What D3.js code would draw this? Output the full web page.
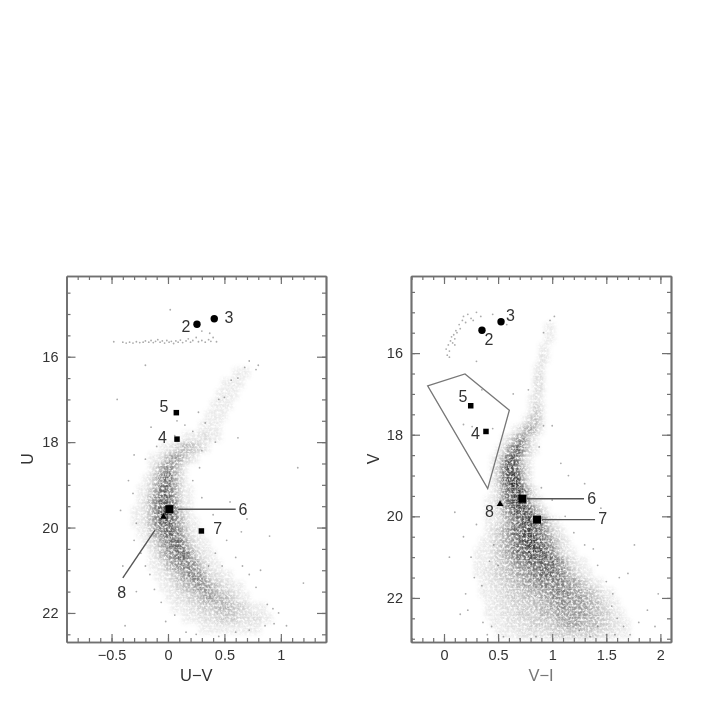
<!DOCTYPE html>
<html><head><meta charset="utf-8">
<script src="https://cdn.jsdelivr.net/npm/d3@7"></script>
<style>
html,body{margin:0;padding:0;background:#fff}
svg{display:block;filter:blur(.6px)}
text{font-family:"Liberation Sans",sans-serif;fill:#333}
</style></head><body><div id="c"></div>
<script>
// density rows: [magnitude, first colour, darkness per 0.05 in colour]
const densityUV=[
[16.375,.6,[1,1,1]],[16.625,.5,[1,1,1,1]],[16.875,.45,[1,1,1,1]],[17.125,.4,[1,1,1,1]],[17.375,.35,[1,1,1,1]],[17.625,.3,[1,1,1,1]],[17.875,.15,[1,1,1,2,2,1,1]],
[18.125,-.05,[1,1,2,3,4,4,3,2,1]],[18.375,-.15,[1,1,2,4,5,5,3,2,1]],[18.625,-.15,[1,3,5,6,5,3,1]],[18.875,-.2,[1,2,4,6,7,5,3,1]],[19.125,-.25,[1,1,3,5,7,7,5,3,1,1]],
[19.375,-.25,[1,2,4,6,7,7,6,3,1,1]],[19.625,-.3,[1,1,2,4,6,8,8,7,4,2,1]],[19.875,-.3,[1,1,2,4,6,7,8,6,5,3,1,1]],[20.125,-.25,[1,1,3,5,6,7,7,6,4,2,1,1]],[20.375,-.2,[1,2,3,5,6,7,7,5,3,2,1,1]],
[20.625,-.15,[1,2,4,5,6,7,7,5,3,2,1,1]],[20.875,-.15,[1,1,2,4,5,6,6,6,5,3,2,1,1]],[21.125,-.1,[1,1,2,3,4,5,6,6,5,3,2,2,1,1]],[21.375,-.05,[1,1,2,3,4,4,5,6,5,4,3,2,2,1,1]],[21.625,0,[1,1,2,2,3,3,4,5,5,4,4,3,2,1,1]],
[21.875,.05,[1,1,1,2,2,3,3,3,4,4,4,3,3,2,1,1,1]],[22.125,.15,[1,1,1,2,2,2,3,3,3,3,2,2,2,2,1,1]],[22.375,.3,[1,1,1,1,1,1,1,1,1,1,1]]];
const densityVI=[
[15.375,.95,[1,1]],[15.625,.95,[1,1]],[15.875,.9,[1,1]],[16.125,.9,[2,1]],[16.375,.85,[1,2]],[16.625,.85,[2,2]],[16.875,.85,[2,2]],[17.125,.8,[1,2,1]],[17.375,.8,[1,3,2]],
[17.625,.75,[1,3,4,2]],[17.875,.65,[1,2,4,5,3,1]],[18.125,.55,[1,2,4,6,5,2,1]],[18.375,.5,[1,2,5,7,7,4,2,1]],[18.625,.45,[1,2,5,8,8,5,2,1]],[18.875,.45,[1,3,6,8,8,6,3,1]],[19.125,.45,[1,3,6,8,9,7,3,1]],
[19.375,.45,[1,2,5,7,8,8,6,3,1]],[19.625,.4,[1,1,3,5,7,8,8,7,4,2,1]],[19.875,.4,[1,1,2,4,6,7,8,8,7,5,3,1]],[20.125,.4,[1,1,2,3,5,6,7,8,8,7,6,4,2,1]],[20.375,.4,[1,2,3,4,5,7,7,8,8,7,6,5,3,2,1]],
[20.625,.35,[1,1,2,3,4,5,6,7,8,8,8,7,6,5,3,2,1]],[20.875,.3,[1,1,1,2,3,4,5,6,7,7,8,8,8,7,6,4,2,1,1]],[21.125,.3,[1,1,1,2,3,3,4,5,6,6,7,7,7,7,7,6,5,3,2,1,1]],[21.375,.3,[1,1,2,2,3,3,4,4,5,5,6,6,7,7,7,6,6,4,3,2,1,1]],
[21.625,.35,[1,1,2,2,3,3,4,4,5,5,6,6,6,6,6,6,5,5,4,3,2,1,1]],[21.875,.35,[1,1,1,2,2,3,3,3,4,4,4,5,5,6,6,6,6,5,5,4,4,3,2,1,1]],[22.125,.4,[1,1,2,2,2,3,3,3,3,4,4,4,5,5,6,5,5,5,5,4,4,3,2,1,1]],
[22.375,.4,[1,1,1,2,2,2,3,3,3,3,4,4,4,5,5,5,5,5,5,4,4,3,3,2,1,1]],[22.625,.45,[1,1,1,2,2,2,2,3,3,3,3,3,4,4,5,5,5,4,4,4,3,3,2,2,1,1]],[22.875,.5,[1,1,1,1,2,2,2,2,2,2,3,3,3,3,3,3,3,3,3,2,2,2,1,1,1]]];

// individual sparse stars: [colour, magnitude]
const starsUV=[[-.48,15.65],[-.4,15.66],[-.37,15.68],[-.34,15.66],[-.31,15.68],[-.28,15.65],[-.25,15.67],[-.22,15.66],[-.2,15.63],[-.17,15.66],[-.15,15.62],[-.13,15.67],[-.11,15.64],[-.09,15.6],[-.07,15.66],[-.05,15.63],[-.03,15.68],[-.01,15.62],[.01,15.66],[.03,15.64],[.05,15.69],[.07,15.63],[.09,15.66],[.11,15.61],[.13,15.67],[.16,15.63],[.18,15.58],[.2,15.66],[.22,15.62],[.25,15.55],[.27,15.65],[.3,15.62],[.33,15.66],[.36,15.6],[.38,15.64],[.4,15.55],[.43,15.65],[.3,15.4],[.37,15.45],
[.72,16.1],[.78,16.3],[.68,16.25],[.62,16.5],[.56,16.55],[.5,16.95],[.45,17],[.33,17.55],[.27,17.3],[.22,17.75],[.15,17.6],[.08,17.5],[.06,17.85],[.3,18.2],[.42,18],[.62,17.9],[-.45,17],[-.2,16.2],[-.15,17.65],[1.15,18.6],[.8,16.2],[.02,14.9],
[-.35,18.9],[-.31,19.2],[-.42,19.6],[-.28,19.9],[-.3,20.3],[-.24,20.6],[-.4,20.9],[-.2,20.9],[-.16,21.1],[-.12,21.45],[-.28,21.5],[-.06,21.75],[-.38,22.3],[-.02,22.2],[.06,22.05],[.16,22.45],[.3,21.2],[.36,20.9],[.42,20.6],[.48,20.9],[.52,20.3],[.6,20.7],[.66,20.9],[.72,21.1],[.78,21.4],[.82,21],[.88,21.8],[.93,21.9],[.98,22],[1.05,22.3],[1.2,21.3],[.7,19.8],[.55,19.4],[.4,19.7],[.3,19.3],[.22,18.9],[.28,18.6],[.9,20.2],[.65,20.1],[.25,22.5],[.45,22.55],[.6,22.45],[.72,22.4],[.86,22.3],[.94,22.25],[-.1,18.1],[-.2,18.4],[-.3,18.3]];
const starsVI=[[.03,16.05],[.02,15.9],[.04,15.8],[.05,15.95],[.06,15.7],[.07,15.6],[.08,15.75],[.09,15.55],[.1,15.65],[.11,15.45],[.12,15.5],[.14,15.3],[.15,15.4],[.17,15.2],[.18,15.1],[.2,15.25],[.22,15.05],[.25,15.15],[.27,15.2],[.3,15],[.34,15.1],[.1,15.8],[.05,16.1],[.45,15.05],[.58,15.3],[.98,15.2],[1.02,15.1],[.92,15.5],
[.64,17],[.35,16.9],[.26,17.8],[.18,17.75],[.45,17.85],[.92,17.78],[1,17.78],[.78,16.9],[.3,16.2],
[.1,19.9],[.18,20.5],[.05,21],[.25,21],[.3,20.2],[.28,21.5],[.2,21.9],[.35,21.7],[.15,22.4],[.22,22.3],[.36,22.6],[.42,21.1],[.46,20.7],[.4,22.9],[.44,22.7],[.5,21.2],[1.12,20],[1.2,20.4],[1.3,20.7],[1.38,20.8],[1.42,21.2],[1.5,21.6],[1.56,21.9],[1.62,21.5],[1.7,21.4],[1.55,22.2],[1.6,22.5],[1.66,22.7],[1.72,22.9],[1.8,22.6],[1.88,22.3],[1.98,21.9],[1.95,22.7],[1.76,20.7],[1.3,19.2],[1.0,19.6],[1.15,19],[.9,19.3],[1.08,18.7],[.88,18.3],[1.45,19.8],[1.35,22.95],[1.42,22.7],[1.25,22.8],[1.5,22.9],[1.58,22.9],[.55,22.95],[.7,23],[.85,22.95]];

const xTicksUV=[-.5,0,.5,1], xMinorUV=d3.range(-8,14).map(d=>d/10);
const xTicksVI=[0,.5,1,1.5,2], xMinorVI=d3.range(-3,21).map(d=>d/10);
const yTicks=[16,18,20,22], yMinorUV=d3.range(14.5,22.6,.5), yMinorVI=d3.range(14.5,23.1,.5);

const circlesUV=[[.257,15.24],[.41,15.11]], squaresUV=[[.074,17.31],[.08,17.93]], bigSquaresUV=[[.012,19.57]], smallSquaresUV=[[.296,20.08]], trianglesUV=[[-.04,19.75]];
const circlesVI=[[.351,15.44],[.527,15.23]], squaresVI=[[.247,17.29],[.388,17.92]], bigSquaresVI=[[.724,19.57],[.86,20.08]], smallSquaresVI=[], trianglesVI=[[.518,19.7]];
const labelsUV=[["2",.16,15.3],["3",.54,15.09],["5",-.035,17.17],["4",-.05,17.88],["6",.665,19.57],["7",.44,20.03],["8",-.41,21.52]];
const labelsVI=[["2",.415,15.66],["3",.615,15.08],["5",.175,17.06],["4",.29,17.98],["6",1.365,19.57],["7",1.467,20.05],["8",.42,19.87]];
const leadersUV=[[[.09,19.57],[.6,19.57]],[[-.115,20.06],[-.4,21.18]]];
const leadersVI=[[[.764,19.57],[1.294,19.57]],[[.903,20.08],[1.396,20.08]]];
const selectionBox=[[-.151,16.8],[.194,16.51],[.604,17.4],[.404,19.32]];

const svg=d3.select("#c").append("svg").attr("width",708).attr("height",708);
const defs=svg.append("defs");
// photographic grain for the density layer
const f=defs.append("filter").attr("id","soft").attr("x","0").attr("y","0").attr("width","708").attr("height","708")
  .attr("filterUnits","userSpaceOnUse").attr("color-interpolation-filters","sRGB");
f.append("feGaussianBlur").attr("in","SourceGraphic").attr("stdDeviation",2).attr("result","b");
f.append("feTurbulence").attr("type","fractalNoise").attr("baseFrequency",.42).attr("numOctaves",2).attr("seed",7).attr("result","n");
f.append("feColorMatrix").attr("in","n").attr("type","matrix").attr("values","0 0 0 0 0 0 0 0 0 0 0 0 0 0 0 2.6 0 0 0 -.55").attr("result","a");
f.append("feComposite").attr("in","b").attr("in2","a").attr("operator","in");
const pat=defs.append("pattern").attr("id","mesh").attr("patternUnits","userSpaceOnUse").attr("width",5.6).attr("height",5.6);
pat.append("path").attr("d","M0 0H5.6M0 0V5.6").attr("stroke","#fff").attr("stroke-width",1.3).attr("stroke-opacity",.4);

function panel(o){
  const x=d3.scaleLinear().domain(o.xd).range(o.xr), y=d3.scaleLinear().domain(o.yd).range(o.yr);
  const g=svg.append("g");
  const cid="clip"+o.id;
  defs.append("clipPath").attr("id",cid).append("rect").attr("x",o.xr[0]).attr("y",o.yr[1]).attr("width",o.xr[1]-o.xr[0]).attr("height",o.yr[0]-o.yr[1]);
  const cells=o.density.flatMap(([m,c0,vals])=>vals.map((v,i)=>({m,c:c0+i*.05,v})));
  const cg=g.append("g").attr("clip-path",`url(#${cid})`);
  cg.append("g").attr("filter","url(#soft)").selectAll("rect").data(cells).join("rect")
    .attr("x",d=>x(d.c-.025)).attr("width",d=>x(d.c+.025)-x(d.c-.025))
    .attr("y",d=>y(d.m-.125)).attr("height",d=>y(d.m+.125)-y(d.m-.125))
    .attr("fill","#000").attr("fill-opacity",d=>.05+.85*Math.pow(d.v/9,1.5));
  cg.append("rect").attr("x",o.xr[0]).attr("y",o.yr[1]).attr("width",o.xr[1]-o.xr[0]).attr("height",o.yr[0]-o.yr[1]).attr("fill","url(#mesh)");
  cg.append("g").selectAll("circle").data(o.stars).join("circle")
    .attr("cx",d=>x(d[0])).attr("cy",d=>y(d[1])).attr("r",.9).attr("fill","#000").attr("fill-opacity",.33);

  // frame and ticks
  const ax=c=>c.attr("color","#707070").call(s=>s.selectAll("path").attr("stroke-width",1.7)).call(s=>s.selectAll("line").attr("stroke-width",1.2));
  const noLab=()=>"";
  const fmt=d=>String(d).replace("-","−");
  const bot=`translate(0,${o.yr[0]})`, top=`translate(0,${o.yr[1]})`, lef=`translate(${o.xr[0]},0)`, rig=`translate(${o.xr[1]},0)`;
  g.append("g").attr("transform",bot).call(d3.axisBottom(x).tickValues(o.xMinor).tickSize(-4).tickSizeOuter(0).tickFormat(noLab)).call(ax);
  g.append("g").attr("transform",bot).call(d3.axisBottom(x).tickValues(o.xTicks).tickSize(-8).tickSizeOuter(0).tickPadding(8).tickFormat(fmt)).call(ax);
  g.append("g").attr("transform",top).call(d3.axisTop(x).tickValues(o.xMinor).tickSize(-4).tickSizeOuter(0).tickFormat(noLab)).call(ax);
  g.append("g").attr("transform",top).call(d3.axisTop(x).tickValues(o.xTicks).tickSize(-8).tickSizeOuter(0).tickFormat(noLab)).call(ax);
  g.append("g").attr("transform",lef).call(d3.axisLeft(y).tickValues(o.yMinor).tickSize(-4).tickSizeOuter(0).tickFormat(noLab)).call(ax);
  g.append("g").attr("transform",lef).call(d3.axisLeft(y).tickValues(yTicks).tickSize(-9).tickSizeOuter(0).tickPadding(8).tickFormat(fmt)).call(ax);
  g.append("g").attr("transform",rig).call(d3.axisRight(y).tickValues(o.yMinor).tickSize(-4).tickSizeOuter(0).tickFormat(noLab)).call(ax);
  g.append("g").attr("transform",rig).call(d3.axisRight(y).tickValues(yTicks).tickSize(-9).tickSizeOuter(0).tickFormat(noLab)).call(ax);
  g.selectAll(".tick text").attr("font-size",14.5).style("font-family","'Liberation Sans',sans-serif").attr("fill","#333");

  // leaders, polygon, markers
  const line=d3.line().x(d=>x(d[0])).y(d=>y(d[1]));
  g.selectAll("path.lead").data(o.leaders).join("path").attr("class","lead").attr("d",line).attr("fill","none").attr("stroke","#555").attr("stroke-width",1.4);
  if(o.box) g.append("path").attr("d",line(o.box)+"Z").attr("fill","none").attr("stroke","#777").attr("stroke-width",1.3);
  g.selectAll("circle.mk").data(o.circles).join("circle").attr("class","mk").attr("cx",d=>x(d[0])).attr("cy",d=>y(d[1])).attr("r",3.7).attr("fill","#000");
  const sq=(arr,s)=>g.append("g").selectAll("rect").data(arr).join("rect").attr("x",d=>x(d[0])-s/2).attr("y",d=>y(d[1])-s/2).attr("width",s).attr("height",s).attr("fill","#000");
  sq(o.squares,5.5); sq(o.small,5.5); sq(o.big,8);
  const tri=d3.symbol().type(d3.symbolTriangle).size(20);
  g.append("g").selectAll("path").data(o.tris).join("path").attr("d",tri).attr("transform",d=>`translate(${x(d[0])},${y(d[1])})`).attr("fill","#000");
  g.append("g").selectAll("text").data(o.labels).join("text").text(d=>d[0]).attr("x",d=>x(d[1])).attr("y",d=>y(d[2]))
    .attr("text-anchor","middle").attr("dominant-baseline","central").attr("font-size",16);
  // axis titles
  g.append("text").text(o.xTitle).attr("x",(o.xr[0]+o.xr[1])/2).attr("y",675).attr("text-anchor","middle").attr("dominant-baseline","central").attr("font-size",16.5).style("fill",o.titleFill);
  g.append("text").text(o.yTitle).attr("transform",`translate(${o.yTitleX},459) rotate(-90)`).attr("text-anchor","middle").attr("dominant-baseline","central").attr("font-size",16);
}

panel({id:"a",xd:[-.899,1.4],xr:[66.5,326],yd:[22.68,14.11],yr:[642,276],density:densityUV,stars:starsUV,xTicks:xTicksUV,xMinor:xMinorUV,yMinor:yMinorUV,
  circles:circlesUV,squares:squaresUV,small:smallSquaresUV,big:bigSquaresUV,tris:trianglesUV,labels:labelsUV,leaders:leadersUV,xTitle:"U−V",yTitle:"U",yTitleX:27,titleFill:"#333"});
panel({id:"b",xd:[-.305,2.098],xr:[411,671],yd:[23.08,14.11],yr:[642,276],density:densityVI,stars:starsVI,xTicks:xTicksVI,xMinor:xMinorVI,yMinor:yMinorVI,
  circles:circlesVI,squares:squaresVI,small:smallSquaresVI,big:bigSquaresVI,tris:trianglesVI,labels:labelsVI,leaders:leadersVI,box:selectionBox,xTitle:"V−I",yTitle:"V",yTitleX:373,titleFill:"#777"});
</script></body></html>
